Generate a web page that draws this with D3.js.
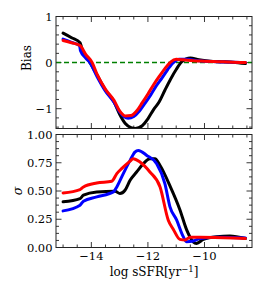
<!DOCTYPE html>
<html>
<head>
<meta charset="utf-8">
<script src="https://cdn.jsdelivr.net/npm/d3@7"></script>
<style>
  body { margin: 0; background: #fff; }
  text { font-family: "DejaVu Serif", serif; fill: #000; }
</style>
</head>
<body>
<script>
// Bias panel (top)
var biasBlackX = [-15, -14.7, -14.4, -14.3, -14.1, -13.8, -13.5, -13.2, -13.0, -12.8, -12.6, -12.45, -12.2, -12.0, -11.8, -11.6, -11.4, -11.2, -11.0, -10.8, -10.5, -10.2, -9.8, -9.4, -9.0, -8.55];
var biasBlackY = [0.64, 0.54, 0.43, 0.22, 0.05, -0.27, -0.6, -0.85, -1.12, -1.32, -1.41, -1.43, -1.37, -1.22, -1.02, -0.85, -0.6, -0.36, -0.15, 0.02, 0.10, 0.06, 0.03, 0.02, 0.01, -0.02];

var biasBlueX = [-15, -14.7, -14.42, -14.38, -14.2, -14.05, -13.8, -13.5, -13.2, -13.0, -12.85, -12.7, -12.5, -12.3, -12.1, -11.9, -11.7, -11.5, -11.3, -11.1, -10.9, -10.6, -10.2, -9.6, -9.0, -8.55];
var biasBlueY = [0.51, 0.44, 0.37, 0.25, 0.1, 0.0, -0.3, -0.62, -0.86, -1.07, -1.17, -1.21, -1.17, -1.05, -0.88, -0.7, -0.5, -0.33, -0.15, 0.0, 0.07, 0.07, 0.04, 0.02, 0.01, 0.0];

var biasRedX = [-15, -14.7, -14.4, -14.2, -13.97, -13.8, -13.5, -13.2, -13.0, -12.8, -12.6, -12.4, -12.2, -12.0, -11.8, -11.6, -11.4, -11.2, -11.0, -10.75, -10.4, -10.0, -9.5, -9.0, -8.55];
var biasRedY = [0.48, 0.43, 0.37, 0.18, 0.0, -0.25, -0.58, -0.82, -1.05, -1.16, -1.15, -1.05, -0.87, -0.68, -0.48, -0.3, -0.13, 0.01, 0.07, 0.06, 0.04, 0.03, 0.02, 0.01, 0.0];

// Sigma panel (bottom)
var sigBlackX = [-15, -14.4, -14.28, -13.81, -13.16, -12.99, -12.81, -12.63, -12.4, -12.16, -11.93, -11.75, -11.57, -11.22, -10.87, -10.63, -10.4, -10.28, -10.04, -9.57, -9.1, -8.55];
var sigBlackY = [0.404, 0.433, 0.463, 0.492, 0.498, 0.478, 0.507, 0.595, 0.668, 0.742, 0.786, 0.786, 0.725, 0.545, 0.335, 0.156, 0.05, 0.036, 0.072, 0.096, 0.102, 0.08];

var sigBlueX = [-15, -14.4, -14.28, -13.81, -13.22, -13.1, -12.87, -12.63, -12.46, -12.34, -12.04, -11.69, -11.4, -11.22, -10.99, -10.75, -10.63, -10.4, -10.16, -9.5, -8.55];
var sigBlueY = [0.324, 0.374, 0.41, 0.448, 0.492, 0.536, 0.654, 0.771, 0.844, 0.859, 0.815, 0.742, 0.566, 0.36, 0.246, 0.096, 0.05, 0.057, 0.08, 0.09, 0.085];

var sigRedX = [-15, -14.4, -14.28, -13.81, -13.28, -13.1, -12.93, -12.63, -12.52, -12.28, -11.93, -11.57, -11.28, -11.1, -10.87, -10.69, -10.51, -10.16, -8.98, -8.55];
var sigRedY = [0.483, 0.513, 0.536, 0.571, 0.586, 0.654, 0.698, 0.765, 0.786, 0.756, 0.668, 0.536, 0.242, 0.16, 0.072, 0.066, 0.09, 0.09, 0.084, 0.08];

var xTicks = [-14, -12, -10];
var biasTicks = [1, 0, -1];
var sigTicks = [0, 0.25, 0.5, 0.75, 1.0];

var width = 266, height = 292;
var left = 56, right = 252;

var svg = d3.select("body").append("svg")
  .attr("width", width)
  .attr("height", height);

var x = d3.scaleLinear().domain([-15.25, -8.32]).range([left, right]);
var yBias = d3.scaleLinear().domain([-1.43, 1]).range([128.5, 16.5]);
var ySig = d3.scaleLinear().domain([0, 1]).range([247.5, 134.5]);

function minorRange(a, b, step) {
  var out = [];
  for (var v = Math.ceil(a / step) * step; v <= b + 1e-9; v += step) out.push(+v.toFixed(4));
  return out;
}

function drawPanel(y, series, yMajor, yMinorStep, yFmt, showX) {
  var g = svg.append("g");
  var x0 = x.range()[0], x1 = x.range()[1];
  var yr = y.range(), yb = yr[0], yt = yr[1];

  g.append("clipPath").attr("id", "clip" + yt)
    .append("rect").attr("x", x0).attr("y", yt).attr("width", x1 - x0).attr("height", yb - yt);

  // ticks on all four sides, pointing inward
  var xd = x.domain();
  minorRange(xd[0], xd[1], 0.5).forEach(function (v) {
    var major = Math.abs(v % 2) < 1e-6;
    var len = major ? 5.5 : 3;
    g.append("line").attr("x1", x(v)).attr("x2", x(v)).attr("y1", yb).attr("y2", yb - len)
      .attr("stroke", "#222").attr("stroke-width", 0.9);
    g.append("line").attr("x1", x(v)).attr("x2", x(v)).attr("y1", yt).attr("y2", yt + len)
      .attr("stroke", "#222").attr("stroke-width", 0.9);
  });
  var yd = y.domain();
  minorRange(yd[0], yd[1], yMinorStep).forEach(function (v) {
    var major = yMajor.some(function (m) { return Math.abs(m - v) < 1e-6; });
    var len = major ? 5.5 : 3;
    g.append("line").attr("x1", x0).attr("x2", x0 + len).attr("y1", y(v)).attr("y2", y(v))
      .attr("stroke", "#222").attr("stroke-width", 0.9);
    g.append("line").attr("x1", x1).attr("x2", x1 - len).attr("y1", y(v)).attr("y2", y(v))
      .attr("stroke", "#222").attr("stroke-width", 0.9);
  });

  // y tick labels
  yMajor.forEach(function (v) {
    g.append("text")
      .attr("x", x0 - 3.5).attr("y", y(v)).attr("dy", "0.36em")
      .attr("text-anchor", "end").style("font-size", "11.5px")
      .text(yFmt(v));
  });

  if (showX) {
    xTicks.forEach(function (v) {
      g.append("text")
        .attr("x", x(v)).attr("y", yb + 12.5)
        .attr("text-anchor", "middle").style("font-size", "11.5px")
        .text(String(v).replace("-", "\u2212"));
    });
  }

  var plot = g.append("g").attr("clip-path", "url(#clip" + yt + ")");
  series.forEach(function (s) {
    if (s.dash) {
      plot.append("line").attr("x1", x0).attr("x2", x1).attr("y1", y(0)).attr("y2", y(0))
        .attr("stroke", s.color).attr("stroke-width", 1.5).attr("stroke-dasharray", "5,3");
      return;
    }
    var pts = s.xs.map(function (d, i) { return [d, s.ys[i]]; });
    var line = d3.line().x(d => x(d[0])).y(d => y(d[1])).curve(d3.curveMonotoneX);
    plot.append("path").datum(pts).attr("d", line)
      .attr("fill", "none").attr("stroke", s.color).attr("stroke-width", 3)
      .attr("stroke-linejoin", "round").attr("stroke-linecap", "round");
  });

  g.append("rect").attr("x", x0).attr("y", yt).attr("width", x1 - x0).attr("height", yb - yt)
    .attr("fill", "none").attr("stroke", "#222").attr("stroke-width", 1);
}

drawPanel(yBias, [
  { color: "#008000", dash: true },
  { xs: biasBlackX, ys: biasBlackY, color: "#000" },
  { xs: biasBlueX, ys: biasBlueY, color: "#0000ff" },
  { xs: biasRedX, ys: biasRedY, color: "#ff0000" }
], biasTicks, 0.2, function (v) { return String(v).replace("-", "\u2212"); }, false);

drawPanel(ySig, [
  { xs: sigBlackX, ys: sigBlackY, color: "#000" },
  { xs: sigBlueX, ys: sigBlueY, color: "#0000ff" },
  { xs: sigRedX, ys: sigRedY, color: "#ff0000" }
], sigTicks, 0.0625, d3.format(".2f"), true);

// axis titles
svg.append("text")
  .attr("transform", "translate(31," + yBias(0.1) + ") rotate(-90)")
  .attr("text-anchor", "middle").style("font-size", "12px")
  .text("Bias");

svg.append("text")
  .attr("transform", "translate(22," + ySig(0.5) + ") rotate(-90)")
  .attr("text-anchor", "middle").style("font-size", "12.5px").style("font-style", "italic")
  .text("\u03c3");

var xl = svg.append("text")
  .attr("x", (left + right) / 2).attr("y", 276)
  .attr("text-anchor", "middle").style("font-size", "12px");
xl.append("tspan").text("log sSFR[yr");
xl.append("tspan").attr("dy", -4.5).style("font-size", "8.5px").text("\u22121");
xl.append("tspan").attr("dy", 4.5).text("]");
</script>
</body>
</html>
